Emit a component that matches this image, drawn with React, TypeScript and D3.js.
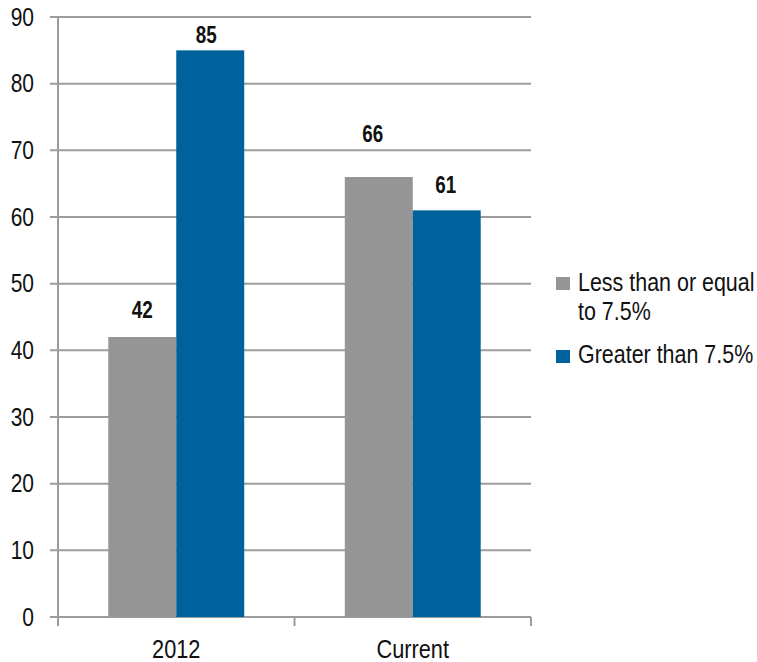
import React from "react";
import * as d3 from "d3";

const categories = ["2012", "Current"];
const seriesNames = ["Less than or equal to 7.5%", "Greater than 7.5%"];
const lessOrEqual = [42, 66];
const greater = [85, 61];
const yTicks = [0, 10, 20, 30, 40, 50, 60, 70, 80, 90];

const W = 757;
const H = 662;
const colors = ["#959595", "#00629c"];
const font = "'Liberation Sans', Arial, sans-serif";

// horizontally condensed text
function CText(props: {
  x: number;
  y: number;
  sx?: number;
  size: number;
  anchor?: "start" | "middle" | "end";
  weight?: string;
  baseline?: string;
  children: React.ReactNode;
}) {
  const { x, y, sx = 0.85, size, anchor = "start", weight = "normal", baseline, children } = props;
  return (
    <text
      transform={`translate(${x},${y}) scale(${sx},1)`}
      textAnchor={anchor}
      fontSize={size}
      fontWeight={weight}
      dominantBaseline={baseline}
      fill="#111"
    >
      {children}
    </text>
  );
}

// per-label placement relative to the bar top: [dx, gap above bar]
const labelPlacement = [
  [
    [0, 19],
    [-6, 35],
  ],
  [
    [-4, 7],
    [-1, 17],
  ],
];

export default function App() {
  const x0 = d3.scaleBand<string>().domain(categories).range([58, 531]).padding(0);
  const x1 = d3
    .scaleBand<string>()
    .domain(seriesNames)
    .range([0, x0.bandwidth()])
    .paddingInner(0)
    .paddingOuter(0.74);
  const y = d3.scaleLinear().domain([0, 90]).range([617, 17]);

  const values = [lessOrEqual, greater];

  return (
    <svg
      width={W}
      height={H}
      style={{ position: "absolute", left: 0, top: 0, background: "#fff" }}
      fontFamily={font}
    >
      {/* gridlines and y tick labels */}
      {yTicks.map((t) => (
        <g key={t}>
          <line x1={50} x2={531} y1={y(t)} y2={y(t)} stroke="#9c9c9c" strokeWidth={2} />
          <CText x={34} y={y(t)} size={25} sx={0.84} anchor="end" baseline="central">
            {t}
          </CText>
        </g>
      ))}
      {/* y axis */}
      <line x1={58} x2={58} y1={y(90)} y2={626} stroke="#9c9c9c" strokeWidth={2} />
      {/* category boundary ticks */}
      {[...categories.map((c) => x0(c)!), 531].map((v, i) => (
        <line key={i} x1={v} x2={v} y1={617} y2={626} stroke="#9c9c9c" strokeWidth={2} />
      ))}

      {/* bars */}
      {categories.map((c, ci) =>
        seriesNames.map((s, si) => {
          const v = values[si][ci];
          const bx = x0(c)! + x1(s)!;
          const [dx, gap] = labelPlacement[si][ci];
          return (
            <g key={c + s}>
              <rect
                x={bx}
                y={y(v)}
                width={x1.bandwidth()}
                height={y(0) - y(v)}
                fill={colors[si]}
              />
              <CText
                x={bx + x1.bandwidth() / 2 + dx}
                y={y(v) - gap}
                size={23}
                sx={0.82}
                weight="bold"
                anchor="middle"
              >
                {v}
              </CText>
            </g>
          );
        })
      )}

      {/* category labels */}
      {categories.map((c) => (
        <CText key={c} x={x0(c)! + x0.bandwidth() / 2} y={658} size={25} sx={0.87} anchor="middle">
          {c}
        </CText>
      ))}

      {/* legend */}
      <rect x={556} y={277} width={14} height={13} fill={colors[0]} />
      <CText x={578} y={291} size={26} sx={0.825}>
        Less than or equal
      </CText>
      <CText x={578} y={320} size={26} sx={0.825}>
        to 7.5%
      </CText>
      <rect x={556} y={350} width={14} height={13} fill={colors[1]} />
      <CText x={578} y={363} size={26} sx={0.825}>
        {seriesNames[1]}
      </CText>
    </svg>
  );
}
